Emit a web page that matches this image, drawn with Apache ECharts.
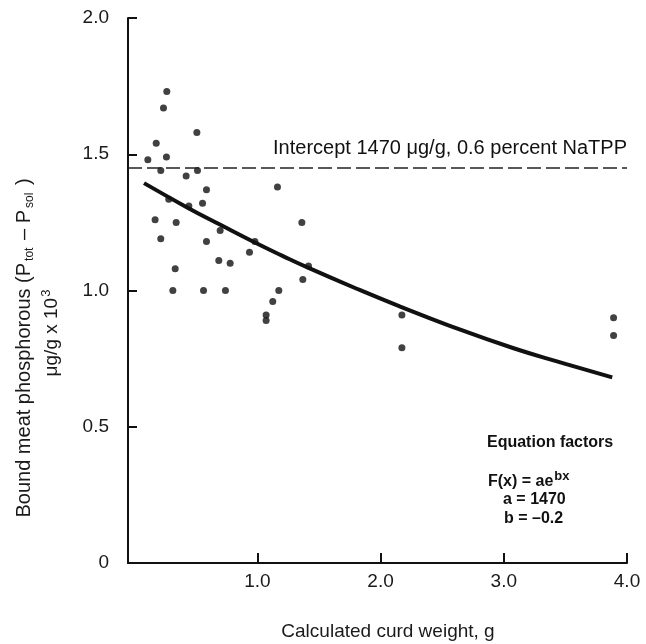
<!DOCTYPE html>
<html><head><meta charset="utf-8">
<script src="https://cdn.jsdelivr.net/npm/echarts@6/dist/echarts.min.js"></script>
<style>html,body{margin:0;padding:0;background:#fff}#c{width:646px;height:644px}</style>
</head><body><div id="c"></div>
<script>
// Observed data points (calculated curd weight g, bound P µg/g x 10^3)
const pointsX = [0.265,0.238,0.509,0.179,0.111,0.262,0.216,0.514,0.422,1.163,0.587,0.281,0.444,0.555,0.170,0.341,1.361,0.698,0.216,0.587,0.980,0.936,0.687,0.779,0.333,1.369,0.314,0.563,0.741,1.174,1.125,1.071,1.071,2.173,2.173,3.891,3.891,1.415];
const pointsY = [1.73,1.67,1.58,1.54,1.48,1.49,1.44,1.44,1.42,1.38,1.37,1.335,1.31,1.32,1.26,1.25,1.25,1.22,1.19,1.18,1.18,1.14,1.11,1.10,1.08,1.04,1.00,1.00,1.00,1.00,0.96,0.91,0.89,0.91,0.79,0.90,0.835,1.09];
// Fitted curve
const curveX = [0.08,0.43,0.70,0.98,1.20,1.42,1.83,2.17,2.54,3.08,3.50,3.88];
const curveY = [1.394,1.305,1.241,1.176,1.128,1.082,1.002,0.939,0.874,0.788,0.731,0.681];
const interceptY = [1.45];
const xTickValues = [1,2,3,4];
const xTickLabels = ['1.0','2.0','3.0','4.0'];
const yTickValues = [0,0.5,1.0,1.5,2.0];
const yTickLabels = ['0','0.5','1.0','1.5','2.0'];
const interceptLabel = 'Intercept 1470 \u03bcg/g, 0.6 percent NaTPP';
const xTitle = 'Calculated curd weight, g';

const FONT = '"Liberation Sans", Arial, sans-serif';
const INK = '#111';
const TXT = '#1a1a1a';

const chart = echarts.init(document.getElementById('c'), null, {renderer:'canvas'});
chart.setOption({
  backgroundColor:'#fff',
  animation:false,
  textStyle:{fontFamily:FONT},
  grid:{left:128,right:19,top:18,bottom:81},
  xAxis:{
    type:'value', min:-0.05, max:4,
    axisLine:{onZero:false,lineStyle:{color:INK,width:2}},
    axisTick:{inside:true,length:10,customValues:xTickValues,lineStyle:{color:INK,width:2}},
    axisLabel:{customValues:xTickValues,formatter:v=>xTickLabels[xTickValues.indexOf(v)],fontSize:19,color:TXT,margin:9,fontFamily:FONT},
    splitLine:{show:false}
  },
  yAxis:{
    type:'value', min:0, max:2, interval:0.5,
    axisLine:{onZero:false,lineStyle:{color:INK,width:2}},
    axisTick:{inside:true,length:9,lineStyle:{color:INK,width:2}},
    axisLabel:{formatter:v=>yTickLabels[yTickValues.indexOf(v)],fontSize:19,color:TXT,margin:19,fontFamily:FONT},
    splitLine:{show:false}
  },
  graphic:[
    {type:'text',x:388,y:632,style:{text:xTitle,fontSize:19,fill:TXT,fontFamily:FONT,align:'center',verticalAlign:'middle'}},
    {type:'text',x:24,y:348,rotation:Math.PI/2,style:{
      text:'{n|Bound meat phosphorous (P}{s|tot}{n| \u2013 P}{s|sol}{n| )}',
      align:'center',verticalAlign:'middle',fill:TXT,fontFamily:FONT,
      rich:{n:{fontSize:20,fontFamily:FONT,fill:TXT},s:{fontSize:12,fontFamily:FONT,fill:TXT,padding:[12,2,0,2]}}
    }},
    {type:'text',x:52,y:333,rotation:Math.PI/2,style:{
      text:'{n|\u03bcg/g x 10}{p|3}',
      align:'center',verticalAlign:'middle',fill:TXT,fontFamily:FONT,
      rich:{n:{fontSize:19,fontFamily:FONT,fill:TXT},p:{fontSize:13,fontFamily:FONT,fill:TXT,padding:[0,0,12,1]}}
    }},
    {type:'text',x:487,y:443,style:{text:'Equation factors',fontSize:16,fontWeight:'bold',fill:INK,fontFamily:FONT,verticalAlign:'middle'}},
    {type:'text',x:488,y:482,style:{
      text:'{n|F(x) = ae}{p|bx}',fill:INK,fontFamily:FONT,verticalAlign:'middle',
      rich:{n:{fontSize:16,fontWeight:'bold',fontFamily:FONT,fill:INK},p:{fontSize:13,fontWeight:'bold',fontFamily:FONT,fill:INK,padding:[0,0,11,1]}}
    }},
    {type:'text',x:503,y:500,style:{text:'a = 1470',fontSize:16,fontWeight:'bold',fill:INK,fontFamily:FONT,verticalAlign:'middle'}},
    {type:'text',x:504,y:519,style:{text:'b = \u20130.2',fontSize:16,fontWeight:'bold',fill:INK,fontFamily:FONT,verticalAlign:'middle'}}
  ],
  series:[
    {
      type:'scatter', data:pointsX.map((x,i)=>[x,pointsY[i]]),
      symbolSize:7, itemStyle:{color:INK}, z:3,
      markLine:{
        silent:true, symbol:'none',
        data:interceptY.map(v=>({yAxis:v})),
        lineStyle:{color:'#222',width:1.5,type:[14,5]},
        label:{show:true,position:'insideEndTop',formatter:interceptLabel,fontSize:20,color:INK,fontFamily:FONT,distance:[0,9]}
      }
    },
    {
      type:'line', data:curveX.map((x,i)=>[x,curveY[i]]),
      smooth:0.5, showSymbol:false, lineStyle:{color:INK,width:4}, z:2
    }
  ]
});
</script></body></html>
